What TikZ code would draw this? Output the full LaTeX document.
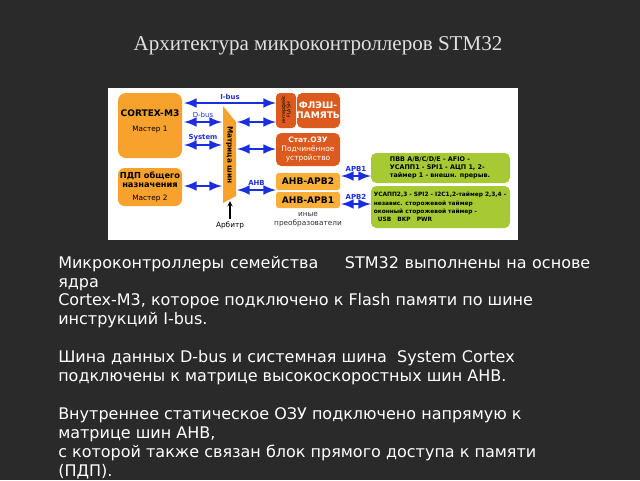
\documentclass[tikz,border=0pt]{standalone}
\usepackage{fontspec}
\setmainfont{Liberation Serif}
\newfontfamily\bodyfont{DejaVu Sans}
\usepackage{xcolor}
\definecolor{slidebg}{HTML}{2A2A2A}
\definecolor{master}{HTML}{F7A22C}
\definecolor{slave}{HTML}{DD5A1E}
\definecolor{bridge}{HTML}{FAB038}
\definecolor{periph}{HTML}{A6C934}
\definecolor{busblue}{HTML}{1A2EE0}
\begin{document}
\begin{tikzpicture}[x=0.75pt,y=-0.75pt,
    blk/.style={rounded corners=4pt, inner sep=0pt, font=\bodyfont\bfseries\fontsize{6.8}{7.5}\selectfont, align=center, text=black},
    bus/.style={<->, busblue, line width=2.2pt, >=latex},
    lbl/.style={font=\bodyfont\bfseries\fontsize{5.2}{6}\selectfont, inner sep=0.5pt},
    body/.style={anchor=base west, inner sep=0pt, text=white, font=\bodyfont\fontsize{12}{14}\selectfont}]

    % Slide background
    \useasboundingbox (0,0) rectangle (640,480);
    \fill[slidebg] (0,0) rectangle (640,480);
    \node[text=white!88!black, font=\fontsize{15.8}{18}\selectfont] (title) at (318,46) {Архитектура микроконтроллеров STM32};

    % Diagram panel
    \fill[white] (108,88) rectangle (518,240);

    % Masters
    \fill[master, rounded corners=6pt] (118,93) rectangle (182,158);
    \node[blk] (cortex) at (150,113) {CORTEX-M3};
    \node[blk, font=\bodyfont\fontsize{5.5}{6}\selectfont] (m1) at (150,130) {Мастер 1};
    \fill[master, rounded corners=5pt] (118,168) rectangle (182,206);
    \node[blk, font=\bodyfont\bfseries\fontsize{6.2}{6.6}\selectfont] (dma) at (150,180) {ПДП общего\\назначения};
    \node[blk, font=\bodyfont\fontsize{5.5}{6}\selectfont] (m2) at (150,199) {Мастер 2};

    % Bus matrix
    \fill[master] (223,106) -- (236,122) -- (236,196) -- (223,203) -- cycle;
    \node[blk, rotate=-90, font=\bodyfont\bfseries\fontsize{5.5}{6}\selectfont] (matrix) at (229.5,155) {Матрица шин};

    % Slaves
    \fill[slave, rounded corners=3pt] (276,93) rectangle (296,128);
    \node[blk, rotate=90, text=black, font=\bodyfont\fontsize{3.6}{4}\selectfont] (flif) at (286,110) {интерфейс\\FLASH};
    \fill[slave, rounded corners=4pt] (297,93) rectangle (340,128);
    \node[blk, text=white] (flash) at (318,110) {ФЛЭШ-\\ПАМЯТЬ};
    \fill[slave, rounded corners=4pt] (276,133) rectangle (340,166);
    \node[blk, text=white, font=\bodyfont\fontsize{5.6}{6.6}\selectfont] (sram) at (308,149.5) {\textbf{Стат.ОЗУ}\\Подчинённое\\устройство};

    % Bridges
    \fill[bridge, rounded corners=2pt] (276,173) rectangle (340,190);
    \node[blk] (apb2br) at (308,181.5) {AHB-APB2};
    \fill[bridge, rounded corners=2pt] (276,192) rectangle (340,208);
    \node[blk] (apb1br) at (308,200) {AHB-APB1};
    \node[font=\bodyfont\fontsize{5.5}{6.5}\selectfont, align=center, text=black!80] (conv) at (308,220) {иные\\преобразователи};

    % Peripherals
    \fill[periph, rounded corners=4pt] (371,153) rectangle (510,183);
    \node[blk, align=left, font=\bodyfont\bfseries\fontsize{4.8}{6.2}\selectfont] (per2) at (440,168) {ПВВ A/B/C/D/E - AFIO -\\УСАПП1 - SPI1 - АЦП 1, 2-\\таймер 1 - внешн. прерыв.};
    \fill[periph, rounded corners=4pt] (371,186) rectangle (510,228);
    \node[blk, align=left, font=\bodyfont\bfseries\fontsize{4.4}{6.2}\selectfont] (per1) at (440,207) {УСАПП2,3 - SPI2 - I2C1,2-таймер 2,3,4 -\\независ. сторожевой таймер\\оконный сторожевой таймер -\\\ \ USB\ \ \ BKP\ \ \ PWR};

    % Bus arrows
    \draw[bus] (184,103) -- (276,103) node[lbl, midway, above=1pt] {I-bus};
    \draw[bus] (184,122) -- (222,122) node[lbl, midway, above=1.5pt, font=\bodyfont\fontsize{5.2}{6}\selectfont] {D-bus};
    \draw[bus] (237,122) -- (276,122);
    \draw[bus] (184,145) -- (222,145) node[lbl, midway, above=1.5pt] {System};
    \draw[bus] (237,149) -- (276,149);
    \draw[bus] (184,186) -- (222,186);
    \draw[bus] (237,190) -- (276,190) node[lbl, midway, above=1.5pt] {AHB};
    \draw[bus] (341,176) -- (371,176) node[lbl, midway, above=1.5pt] {APB1};
    \draw[bus] (341,204) -- (371,204) node[lbl, midway, above=1.5pt] {APB2};
    \coordinate (arbfoot) at (230,219);
    \draw[->, >=stealth, thick] (arbfoot) -- (230,201);
    \node[font=\bodyfont\fontsize{5.5}{6}\selectfont] (arb) at (230,225) {Арбитр};

    % Slide text
    \node[body] (t1) at (58,268) {\hbox to 399pt{Микроконтроллеры\hfill семейства\hskip 20pt STM32\hfill выполнены\hfill на\hfill основе}};
    \node[body] (t2) at (58,287) {ядра};
    \node[body] (t3) at (58,305) {Cortex-M3, которое подключено к Flash памяти по шине};
    \node[body] (t4) at (58,324) {инструкций I-bus.};
    \node[body] (t5) at (58,362) {Шина данных D-bus и системная шина\ \ System Cortex};
    \node[body] (t6) at (58,381) {подключены к матрице высокоскоростных шин AHB.};
    \node[body] (t7) at (58,419) {Внутреннее статическое ОЗУ подключено напрямую к};
    \node[body] (t8) at (58,438) {матрице шин AHB,};
    \node[body] (t9) at (58,457) {с которой также связан блок прямого доступа к памяти};
    \node[body] (t10) at (58,476) {(ПДП).};
\end{tikzpicture}
\end{document}
